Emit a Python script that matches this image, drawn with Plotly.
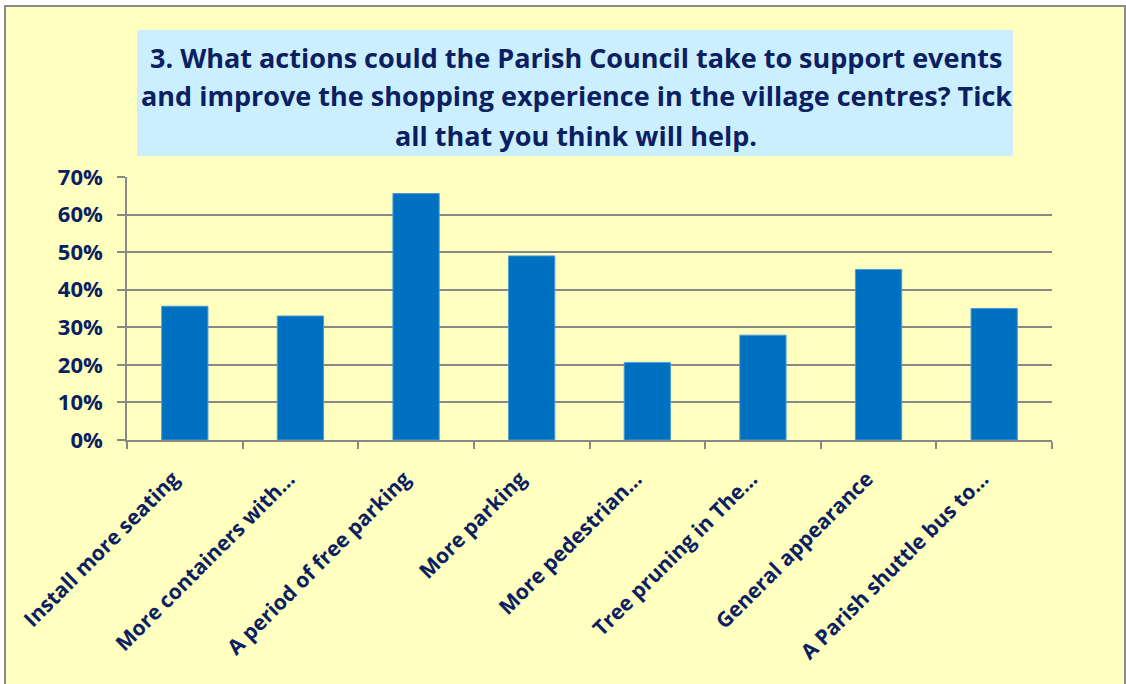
import plotly.graph_objects as go

categories = [
    "Install more seating",
    "More containers with…",
    "A period of free parking",
    "More parking",
    "More pedestrian…",
    "Tree pruning in The…",
    "General appearance",
    "A Parish shuttle bus to…",
]
percent = [35.6, 33.0, 65.6, 49.0, 20.6, 27.9, 45.4, 35.0]
y_ticks = [0, 10, 20, 30, 40, 50, 60, 70]
y_tick_labels = [f"{v}%" for v in y_ticks]

title_lines = [
    "3. What actions could the Parish Council take to support events",
    "and improve the shopping experience in the village centres? Tick",
    "all that you think will help.",
]

NAVY = "#0A2060"
GRID = "#888888"
FONT = "Open Sans"

W, H = 1126, 684
L, R, T, B = 127, 74, 177, 244
pw, ph = W - L - R, H - T - B


def px_x(x):
    return (x - L) / pw


def px_y(y):
    return (H - B - y) / ph


fig = go.Figure()
fig.add_trace(go.Bar(
    x=categories, y=percent,
    marker=dict(color="#0070C0", line=dict(color="#4A9BD6", width=1)),
    width=0.4,
))

# chart area background with grey border
fig.add_shape(type="rect", xref="paper", yref="paper", layer="below",
              x0=px_x(5), x1=px_x(1125), y0=px_y(700), y1=px_y(6),
              fillcolor="#FFFFC0", line=dict(color="#8C8C8C", width=2))

# title box
fig.add_shape(type="rect", xref="paper", yref="paper", layer="below",
              x0=px_x(137), x1=px_x(1013), y0=px_y(156), y1=px_y(30),
              fillcolor="#CCEFFF", line=dict(width=0))
for i, line in enumerate(title_lines):
    fig.add_annotation(
        text=line, xref="paper", yref="paper",
        x=px_x(576), y=px_y(57 + 39 * i), xanchor="center", yanchor="middle",
        showarrow=False,
        font=dict(family=FONT, size=27, color=NAVY, weight="bold"),
    )

fig.update_layout(
    width=W, height=H,
    margin=dict(l=L, r=R, t=T, b=B),
    paper_bgcolor="white",
    plot_bgcolor="white",
    showlegend=False,
    font=dict(family=FONT, color=NAVY),
)
fig.update_yaxes(
    range=[0, 70], tickvals=y_ticks, ticktext=y_tick_labels,
    showgrid=True, gridcolor=GRID, gridwidth=1.5,
    showline=True, linecolor=GRID, linewidth=1.5,
    ticks="outside", ticklen=8, tickcolor=GRID, tickwidth=1.5,
    ticklabelstandoff=10,
    tickfont=dict(family=FONT, size=22, color=NAVY, weight="bold"),
    zeroline=False,
)
# trailing non-breaking spaces nudge the rotated labels left, like Excel
fig.update_xaxes(
    tickvals=categories, ticktext=[c + "\u00a0" * 3 for c in categories],
    tickangle=-45, tickson="boundaries",
    showline=True, linecolor=GRID, linewidth=1.5,
    ticks="outside", ticklen=7, tickcolor=GRID, tickwidth=1.5,
    ticklabelstandoff=5,
    tickfont=dict(family=FONT, size=21, color=NAVY, weight="bold"),
)

fig.write_html("out.html", config={"displayModeBar": False},
               post_script="document.body.style.margin='0';")
